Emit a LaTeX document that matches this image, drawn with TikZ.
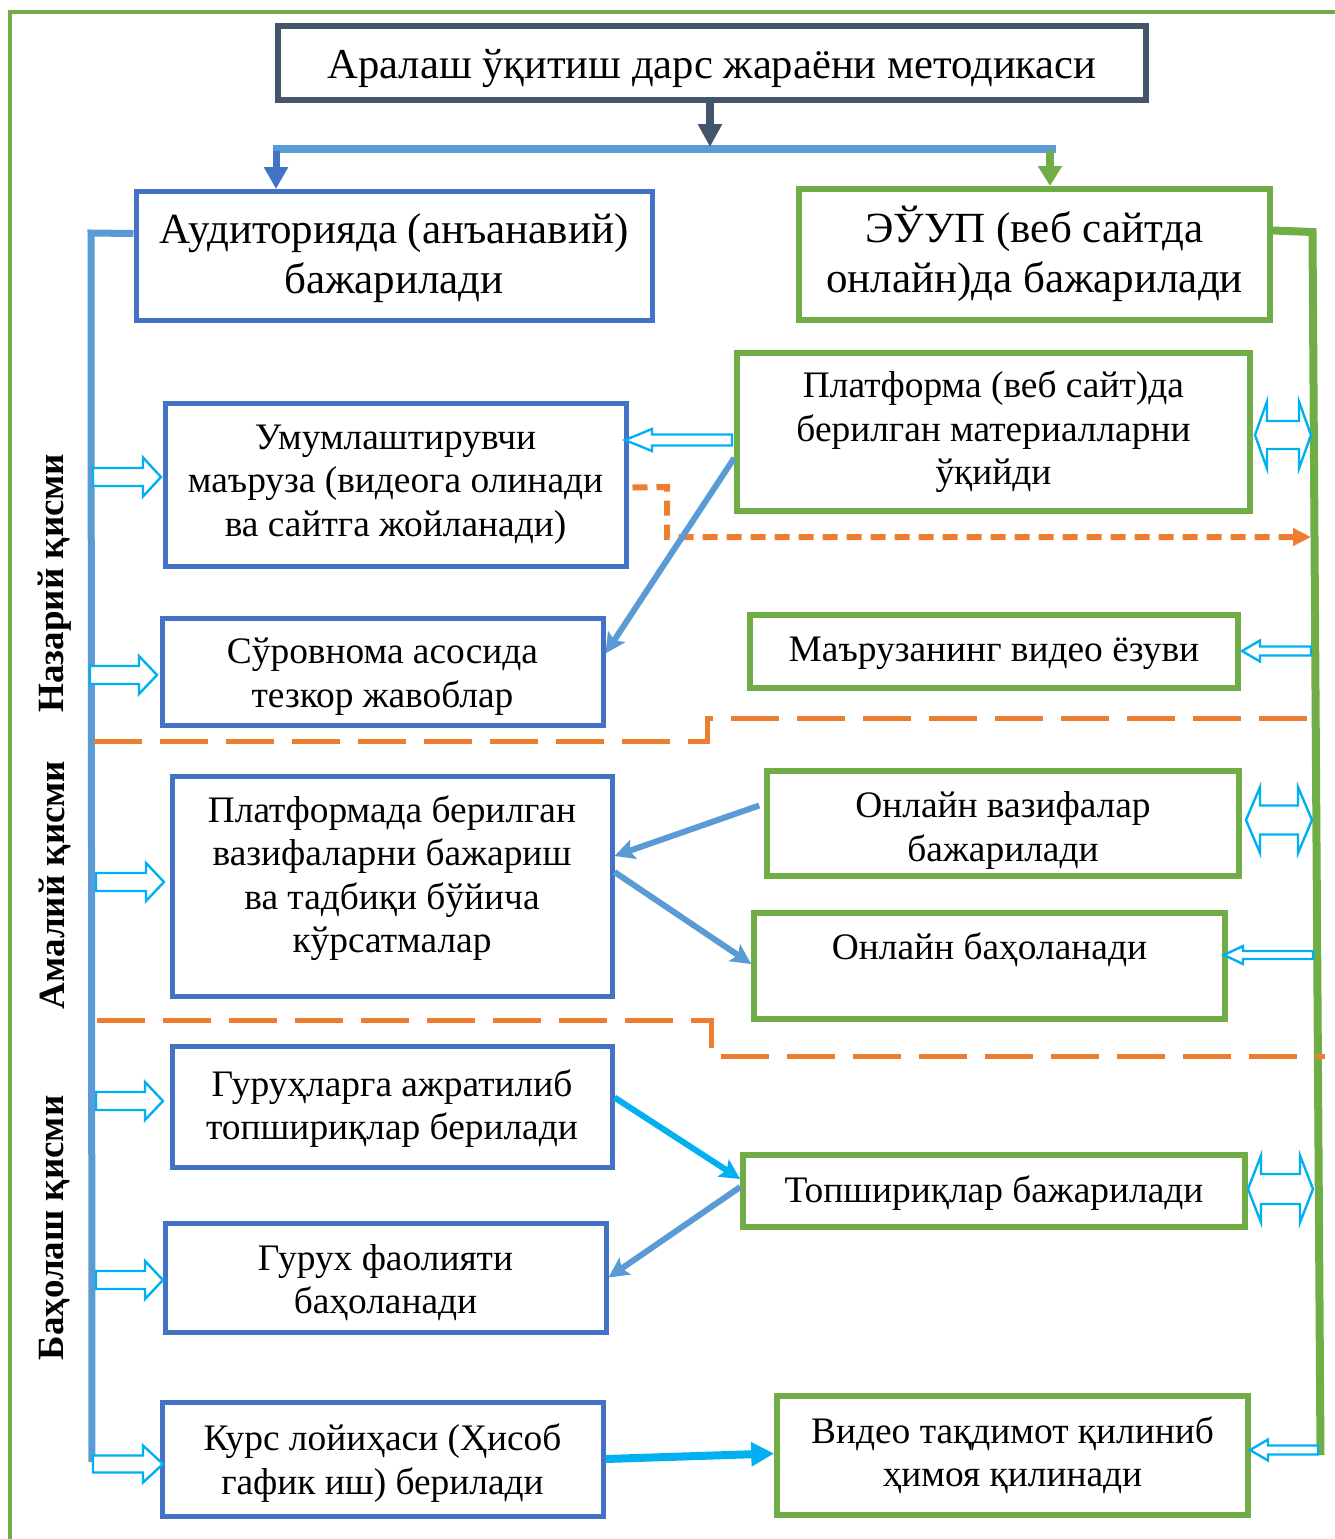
\documentclass[tikz,border=0pt]{standalone}
\usepackage{fontspec}
\setmainfont{Liberation Serif}
\usetikzlibrary{arrows.meta}
\definecolor{slate}{HTML}{44546A}
\definecolor{boxblue}{HTML}{4472C4}
\definecolor{lblue}{HTML}{5B9BD5}
\definecolor{grn}{HTML}{70AD47}
\definecolor{cyanc}{HTML}{00B0F0}
\definecolor{orng}{HTML}{ED7D31}
% name, style, x1, y1, x2, y2, text shift (pt, + = up), text
\newcommand\mybox[8]{\node[#2, minimum width={(#5-#3)*0.5pt}, minimum height={(#6-#4)*0.5pt}] (#1) at ({(#3+#5)/2},{(#4+#6)/2}) {};
  \node[#2txt] (#1-t) at ([yshift=#7]#1.center) {#8};}
\newcommand\hollowR[6]{\draw[hol] (#1,{#3-#4}) -- ({#2-#6},{#3-#4}) -- ({#2-#6},{#3-#5}) -- (#2,#3) -- ({#2-#6},{#3+#5}) -- ({#2-#6},{#3+#4}) -- (#1,{#3+#4}) -- cycle;}
\newcommand\hollowL[6]{\draw[hol] (#2,{#3-#4}) -- ({#1+#6},{#3-#4}) -- ({#1+#6},{#3-#5}) -- (#1,#3) -- ({#1+#6},{#3+#5}) -- ({#1+#6},{#3+#4}) -- (#2,{#3+#4}) -- cycle;}
\newcommand\hollowD[6]{\draw[hol] (#1,#3) -- ({#1+#6},{#3-#5}) -- ({#1+#6},{#3-#4}) -- ({#2-#6},{#3-#4}) -- ({#2-#6},{#3-#5}) -- (#2,#3) -- ({#2-#6},{#3+#5}) -- ({#2-#6},{#3+#4}) -- ({#1+#6},{#3+#4}) -- ({#1+#6},{#3+#5}) -- cycle;}
\tikzset{
  bbox/.style={draw=boxblue, line width=2.5pt, inner sep=0pt},
  gbox/.style={draw=grn, line width=2.8pt, inner sep=0pt},
  bigb/.style={bbox},
  bigg/.style={gbox},
  tbox/.style={draw=slate, line width=3.2pt, inner sep=0pt},
  smalltxt/.style={align=center, inner sep=0pt, font=\fontsize{18.7}{21.7}\selectfont},
  bboxtxt/.style={smalltxt},
  gboxtxt/.style={smalltxt},
  bigbtxt/.style={align=center, inner sep=0pt, font=\fontsize{21.5}{25}\selectfont},
  biggtxt/.style={bigbtxt},
  tboxtxt/.style={align=center, inner sep=0pt, font=\fontsize{21.3}{25}\selectfont},
  side/.style={rotate=90, inner sep=0pt, font=\fontsize{18.5}{22}\selectfont\bfseries},
  hol/.style={draw=cyanc, line width=1.2pt, fill=white, line join=miter},
  conn/.style={lblue, line width=3pt, -{Stealth[length=10pt,width=10pt,inset=2pt]}},
  cconn/.style={cyanc, line width=3pt, -{Stealth[length=10pt,width=10pt,inset=2pt]}},
  sep/.style={orng, line width=2.5pt, dash pattern=on 24pt off 9pt},
}
\begin{document}
\begin{tikzpicture}[x=0.5pt,y=-0.5pt]
\useasboundingbox (0,0) rectangle (1335,1539);
% outer frame
\draw[grn, line width=2pt] (9.5,1560) -- (9.5,11.5) -- (1360,11.5);

% boxes
\mybox{title}{tbox}{278}{26}{1146}{100}{-3pt}{Аралаш ўқитиш дарс жараёни методикаси}
\mybox{aud}{bigb}{136}{191}{652}{320}{-1.5pt}{Аудиторияда (анъанавий)\\бажарилади}
\mybox{euup}{bigg}{799}{189}{1270}{320}{0.5pt}{ЭЎУП (веб сайтда\\онлайн)да бажарилади}
\mybox{um}{bbox}{165}{403}{626}{566}{0pt}{Умумлаштирувчи\\маъруза (видеога олинади\\ва сайтга жойланади)}
\mybox{sur}{bbox}{162}{618}{603}{725}{-2.5pt}{Сўровнома асосида\\тезкор жавоблар}
\mybox{plm}{bbox}{172}{776}{612}{996}{4pt}{Платформада берилган\\вазифаларни бажариш\\ва тадбиқи бўйича\\кўрсатмалар}
\mybox{gur}{bbox}{172}{1046}{612}{1167}{-1pt}{Гуруҳларга ажратилиб\\топшириқлар берилади}
\mybox{gf}{bbox}{165}{1223}{606}{1332}{-2.5pt}{Гурух фаолияти\\баҳоланади}
\mybox{kurs}{bbox}{162}{1402}{603}{1516}{-2pt}{Курс лойиҳаси (Ҳисоб\\гафик иш) берилади}
\mybox{pl}{gbox}{737}{353}{1250}{511}{0pt}{Платформа (веб сайт)да\\берилган материалларни\\ўқийди}
\mybox{mv}{gbox}{750}{615}{1238}{688}{-1pt}{Маърузанинг видео ёзуви}
\mybox{onv}{gbox}{767}{771}{1239}{876}{-3.5pt}{Онлайн вазифалар\\бажарилади}
\mybox{ob}{gbox}{754}{913}{1225}{1019}{8pt}{Онлайн баҳоланади}
\mybox{top}{gbox}{743}{1155}{1245}{1227}{-1pt}{Топшириқлар бажарилади}
\mybox{vid}{gbox}{777}{1396}{1248}{1515}{0pt}{Видео тақдимот қилиниб\\ҳимоя қилинади}

% side labels
\node[side] (l1) at (55,583) {Назарий қисми};
\node[side] (l2) at (55,885) {Амалий қисми};
\node[side] (l3) at (55,1228) {Баҳолаш қисми};

% top distribution
\coordinate (bl) at (273,149);
\coordinate (br) at (1056,149);
\draw[lblue, line width=4pt] (bl) -- (br);
\draw[slate, line width=4pt, -{Triangle[length=11.5pt,width=11.5pt]}] (title.south -| 710,0) -- (710,147);
\draw[boxblue, line width=3.5pt, -{Triangle[length=11pt,width=11.5pt]}] (276,151) -- (276,189);
\draw[grn, line width=4pt, -{Triangle[length=10pt,width=11.5pt]}] (1050,151) -- (1050,186);

% side trunks
\draw[lblue, line width=3.5pt] ([yshift=11pt]aud.west) -- (91,233) -- (92,1462);
\draw[grn, line width=4pt] ([yshift=12pt]euup.east) -- (1312.5,232) -- (1320.5,1455);

% orange dashed
\draw[orng, line width=3pt, dash pattern=on 7.5pt off 4.5pt, -{Triangle[length=9pt,width=8.5pt]}]
  ([xshift=2pt,yshift=-1.5pt]um.east) -- (667,487) -- (667,537) -- (1311,537);
\draw[sep] (94,741) -- (707,741) -- (707,718) -- (1310,718);
\draw[sep] (97,1020) -- (711,1020) -- (711,1056) -- (1325,1056);

% connectors
\draw[conn] ([yshift=-13pt]pl.west) -- ([yshift=9pt]sur.east);
\draw[conn] ([xshift=-2.5pt,yshift=9pt]onv.west) -- ([yshift=15pt]plm.east);
\draw[conn] ([yshift=7pt]plm.east) -- ([yshift=1pt]ob.west);
\draw[cconn] ([yshift=4.5pt]gur.east) -- ([yshift=6pt]top.west);
\draw[conn] ([yshift=2pt]top.west) -- (gf.east);
\draw[cyanc, line width=4pt, -{Triangle[length=11.5pt,width=11.5pt]}] (kurs.east) -- ([yshift=1pt]vid.west);

% hollow arrows left
\hollowR{93}{161}{477}{9}{19.5}{18}
\hollowR{90}{157}{675}{9}{19}{18}
\hollowR{96}{164}{882}{9}{19}{18}
\hollowR{96}{163}{1101}{9}{19}{18}
\hollowR{96}{163}{1280}{9}{19}{18}
\hollowR{93}{163}{1464}{8.5}{18.5}{20}
% hollow arrows right
\hollowL{625}{732}{440}{5.5}{11}{27}
\hollowL{1242}{1311}{651}{4.5}{10.5}{18}
\hollowL{1224}{1313}{955}{4}{9}{19}
\hollowL{1250}{1318}{1450}{4.5}{10.5}{18}
\hollowD{1255}{1311}{435}{14}{33.5}{12}
\hollowD{1246}{1312}{820}{14.5}{33}{14}
\hollowD{1248}{1313}{1189}{15}{33.5}{13}
\end{tikzpicture}
\end{document}
